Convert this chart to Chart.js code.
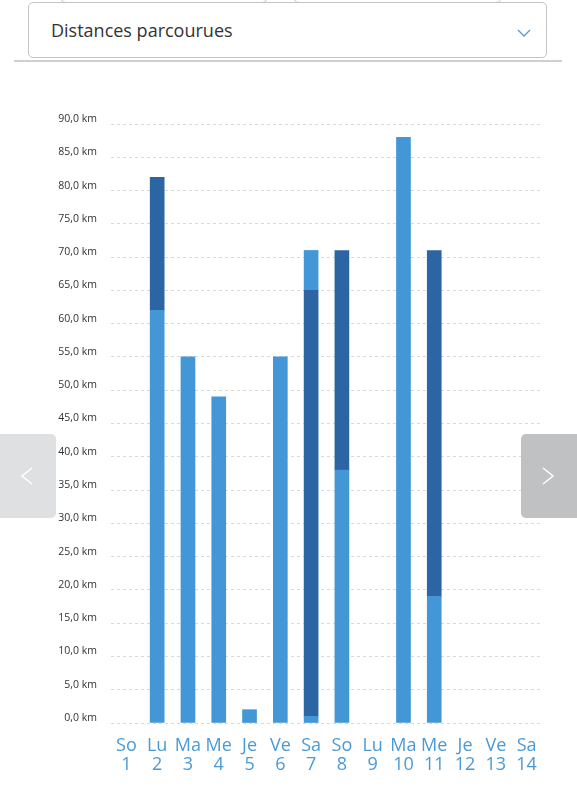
<!DOCTYPE html>
<html>
<head>
<meta charset="utf-8">
<script src="https://cdn.jsdelivr.net/npm/chart.js@4/dist/chart.umd.min.js"></script>
<style>
  html, body { margin: 0; padding: 0; background: #fff; width: 577px; height: 800px; overflow: hidden; font-family: "Open Sans", sans-serif; }
  .tab { position: absolute; top: -40px; height: 41px; border: 1px solid #c8c8c8; border-radius: 6px; background: #fff; }
  .select { position: absolute; left: 28px; top: 2px; width: 519px; height: 56px; border: 1px solid #c4c4c4; border-radius: 5px; background: #fff; box-sizing: border-box; }
  .select .t { position: absolute; left: 22px; top: 15px; font-size: 18px; color: #333; }
  .select svg { position: absolute; left: 488px; top: 26px; }
  .rule { position: absolute; left: 14px; top: 60px; width: 548px; height: 2px; background: #cfcfcf; }
  .nav { position: absolute; top: 434px; width: 56px; height: 84px; border-radius: 5px; }
  .nav svg { position: absolute; top: 33px; left: 20px; }
  #wrap { position: absolute; left: 0; top: 100px; width: 577px; height: 690px; }
</style>
</head>
<body>
<div class="tab" style="left:60px;width:206px;"></div>
<div class="tab" style="left:293px;width:207px;"></div>
<div class="select"><span class="t">Distances parcourues</span>
<svg width="14" height="9" viewBox="0 0 14 9"><polyline points="1,1 7,7 13,1" fill="none" stroke="#5b9bd5" stroke-width="1.3"/></svg></div>
<div class="rule"></div>
<div id="wrap"><canvas id="c"></canvas></div>
<div class="nav" style="left:0;background:#dfe0e1;border-radius:0 5px 5px 0;"><svg width="14" height="18" viewBox="0 0 14 18"><polyline points="12,1 2,9 12,17" fill="none" stroke="#fff" stroke-width="1.5"/></svg></div>
<div class="nav" style="left:521px;background:#bfc1c3;border-radius:5px 0 0 5px;"><svg width="14" height="18" viewBox="0 0 14 18"><polyline points="2,1 12,9 2,17" fill="none" stroke="#fff" stroke-width="1.5"/></svg></div>
<script>
const dayNames = ["So","Lu","Ma","Me","Je","Ve","Sa","So","Lu","Ma","Me","Je","Ve","Sa"];
const dayNumbers = ["1","2","3","4","5","6","7","8","9","10","11","12","13","14"];
const lightBase = [0, 62, 55, 49, 2, 55, 1, 38, 0, 88, 19, 0, 0, 0];
const darkMiddle = [0, 20, 0, 0, 0, 0, 64, 33, 0, 0, 52, 0, 0, 0];
const lightTop = [0, 0, 0, 0, 0, 0, 6, 0, 0, 0, 0, 0, 0, 0];

const LIGHT = "#4497d6";
const DARK = "#2b65a4";
const labels = dayNames.map((d, i) => [d, dayNumbers[i]]);
const nz = arr => arr.map(v => (v === 0 ? null : v));

new Chart(document.getElementById("c"), {
  type: "bar",
  data: {
    labels: labels,
    datasets: [
      { data: nz(lightBase), backgroundColor: LIGHT, borderWidth: 0, barThickness: 14 },
      { data: nz(darkMiddle), backgroundColor: DARK, borderWidth: 0, barThickness: 14 },
      { data: nz(lightTop), backgroundColor: LIGHT, borderWidth: 0, barThickness: 14 }
    ]
  },
  options: {
    responsive: true,
    maintainAspectRatio: false,
    animation: false,
    layout: { padding: { top: 24, right: 35, left: 0, bottom: 0 } },
    plugins: { legend: { display: false }, tooltip: { enabled: false } },
    scales: {
      x: {
        stacked: true,
        grid: { display: false },
        border: { display: false },
        ticks: {
          color: "#4a9ad7",
          font: { family: "Open Sans", size: 18, lineHeight: 1.08 },
          padding: 5,
          maxRotation: 0,
          autoSkip: false
        },
        afterFit: s => { s.height = 67; }
      },
      y: {
        stacked: true,
        min: 0,
        max: 90,
        grid: { color: "#d9d9d9", drawTicks: false },
        border: { display: false, dash: [3, 3] },
        ticks: {
          stepSize: 5,
          color: "#333",
          padding: 14,
          labelOffset: -5,
          font: { family: "Open Sans", size: 10.5 },
          callback: v => v.toFixed(1).replace(".", ",") + " km"
        },
        afterFit: s => { s.width = 111; }
      }
    }
  }
});
</script>
</body>
</html>
